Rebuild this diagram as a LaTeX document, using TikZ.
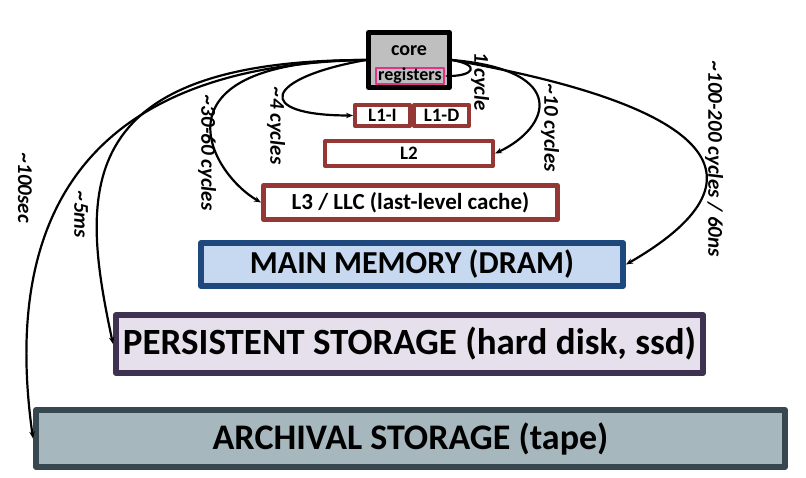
\documentclass[tikz,border=0pt]{standalone}
\usepackage{fontspec}
\setmainfont{Carlito}
\usetikzlibrary{arrows.meta}

\definecolor{cachered}{HTML}{953735}
\definecolor{memfill}{HTML}{C6D9F1}
\definecolor{memedge}{HTML}{1F497D}
\definecolor{diskfill}{HTML}{E5E0EC}
\definecolor{diskedge}{HTML}{3F3151}
\definecolor{tapefill}{HTML}{A6B7BE}
\definecolor{tapeedge}{HTML}{37474F}
\definecolor{coregray}{HTML}{BFBFBF}
\definecolor{regpink}{HTML}{E0338A}

\begin{document}
\begin{tikzpicture}[
    x=1pt,
    y=1pt,
    >={Stealth[length=7pt,width=5.5pt]},
    line cap=round,
    line join=round,
    box/.style={draw, rectangle, inner sep=0pt},
    cachebox/.style={box, draw=cachered, fill=white, line width=4pt,
        font=\bfseries\fontsize{19pt}{19pt}\selectfont},
    lat/.style={->, line width=2.2pt},
    latlabel/.style={rotate=-90, inner sep=0pt,
        font=\bfseries\itshape\fontsize{21pt}{21pt}\selectfont}
]

\useasboundingbox (0,0) rectangle (806,478);

% Core e registri
\node[box, fill=coregray, line width=5pt,
    minimum width=81pt, minimum height=55pt] (core) at (409,418) {};
\node[anchor=base, inner sep=0pt,
    font=\bfseries\fontsize{20pt}{20pt}\selectfont] (corelbl) at (409,422) {core};
\node[box, draw=regpink, line width=2pt, minimum width=68pt, minimum height=16pt,
    font=\bfseries\fontsize{18pt}{18pt}\selectfont] (reg) at (410,402) {registers};

% Cache
\node[cachebox, minimum width=55pt, minimum height=21pt] (l1i) at (382.5,362.5) {L1-I};
\node[cachebox, minimum width=55pt, minimum height=21pt] (l1d) at (441.5,362.5) {L1-D};
\node[cachebox, minimum width=168pt, minimum height=25pt] (l2) at (409,324.5) {L2};
\node[cachebox, line width=5pt, minimum width=294pt, minimum height=34pt,
    font=\bfseries\fontsize{23pt}{23pt}\selectfont] (l3) at (410.5,275.5)
    {L3 / LLC (last-level cache)};

% Memoria e storage
\node[box, draw=memedge, fill=memfill, line width=6pt,
    minimum width=422pt, minimum height=43pt,
    font=\bfseries\fontsize{32pt}{32pt}\selectfont] (mm) at (412,213.5)
    {MAIN MEMORY (DRAM)};
\node[box, draw=diskedge, fill=diskfill, line width=6pt,
    minimum width=587pt, minimum height=58pt,
    font=\bfseries\fontsize{37pt}{37pt}\selectfont] (pers) at (409.5,134)
    {PERSISTENT STORAGE (hard disk, ssd)};
\node[box, draw=tapeedge, fill=tapefill, line width=6pt,
    minimum width=749pt, minimum height=57pt,
    font=\bfseries\fontsize{36pt}{36pt}\selectfont] (arch) at (410.5,39.5)
    {ARCHIVAL STORAGE (tape)};

% Latenze a destra
\draw[lat] (core.east) to[out=-10, in=0, out distance=30pt, in distance=28pt] (reg.east);
\draw[lat] (core.east) to[out=-5, in=25, out distance=120pt, in distance=60pt] (l2.east);
\draw[lat] (core.east) to[out=-10, in=30, out distance=270pt, in distance=170pt] (mm.east);

% Latenze a sinistra
\draw[lat] (core.west) to[out=190, in=180, out distance=105pt, in distance=100pt] (l1i.west);
\draw[lat] (core.west) to[out=180, in=150, out distance=220pt, in distance=60pt] (l3.west);
\draw[lat] (core.west) to[out=180, in=102, out distance=300pt, in distance=150pt] (pers.west);
\draw[lat] (core.west) to[out=181, in=98, out distance=256pt, in distance=250pt] (arch.west);

% Etichette
\node[latlabel] (t1)   at (480,396) {1 cycle};
\node[latlabel] (t10)  at (550,350) {\textasciitilde10 cycles};
\node[latlabel] (t100) at (714,319) {\textasciitilde100-200 cycles / 60ns};
\node[latlabel] (t4)   at (276,352) {\textasciitilde4 cycles};
\node[latlabel] (t30)  at (207,325) {\textasciitilde30-60 cycles};
\node[latlabel] (t5)   at (81,263)  {\textasciitilde5ms};
\node[latlabel] (tsec) at (25,290)  {\textasciitilde100sec};

\end{tikzpicture}
\end{document}
